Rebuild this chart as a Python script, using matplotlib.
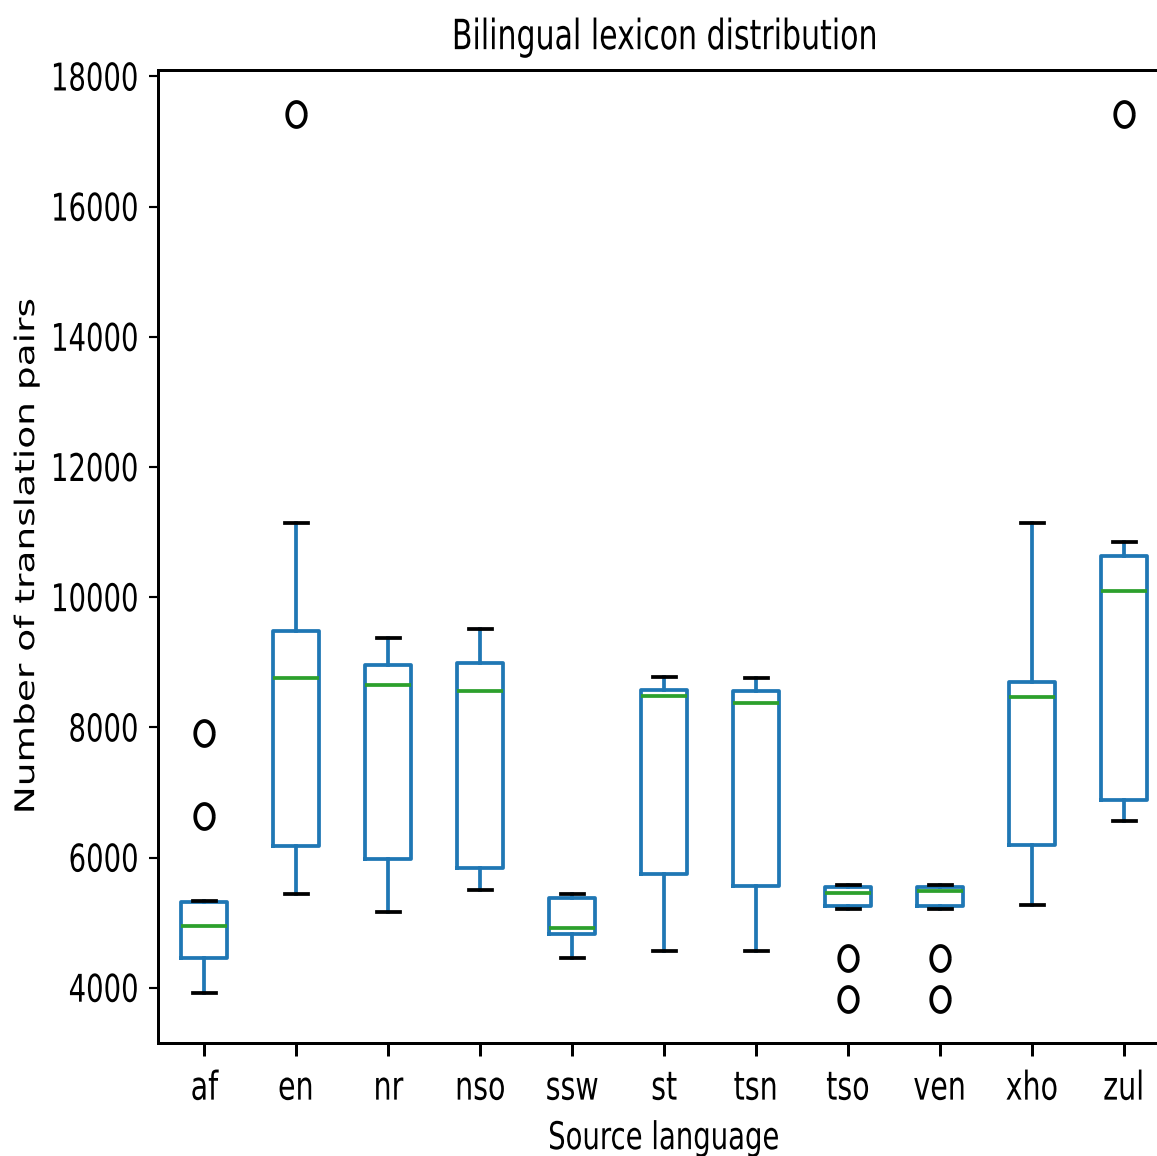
import matplotlib
matplotlib.use("Agg")
import matplotlib.pyplot as plt
import numpy as np
from matplotlib.patheffects import AbstractPathEffect
from matplotlib.transforms import Affine2D

# ---- data ----
languages = ["af", "en", "nr", "nso", "ssw", "st", "tsn", "tso", "ven", "xho", "zul"]
whisker_low = [3920, 5440, 5170, 5500, 4460, 4570, 4570, 5210, 5210, 5270, 6560]
q1 =          [4460, 6180, 5980, 5840, 4830, 5750, 5570, 5260, 5260, 6190, 6890]
medians =     [4950, 8760, 8650, 8560, 4920, 8480, 8375, 5460, 5480, 8470, 10090]
q3 =          [5320, 9480, 8960, 8990, 5380, 8570, 8560, 5550, 5550, 8700, 10630]
whisker_high =[5335, 11140, 9370, 9510, 5440, 8770, 8760, 5580, 5580, 11140, 10850]
fliers = [[7910, 6640], [17420], [], [], [], [], [], [4460, 3830], [4460, 3830], [], [17420]]

title = "Bilingual lexicon distribution"
xlabel = "Source language"
ylabel = "Number of translation pairs"
yticks = [4000, 6000, 8000, 10000, 12000, 14000, 16000, 18000]

# ---- styling ----
S = 2.7          # scale factor (original drawn at ~270 dpi)
SQ = 0.72        # horizontal squeeze of the reference image


class Squeeze(AbstractPathEffect):
    """Draw text glyphs scaled in glyph space (keeps the text as real text)."""

    def __init__(self, sx=1.0, sy=1.0, anchor="center"):
        super().__init__()
        self.sx, self.sy, self.anchor = sx, sy, anchor

    def draw_path(self, renderer, gc, tpath, affine, rgbFace=None):
        ext = tpath.get_extents()
        if self.anchor == "right":
            cx = ext.x1
        elif self.anchor == "left":
            cx = ext.x0
        else:
            cx = 0.5 * (ext.x0 + ext.x1)
        cy = 0.5 * (ext.y0 + ext.y1)
        t = Affine2D().translate(-cx, -cy).scale(self.sx, self.sy).translate(cx, cy) + affine
        renderer.draw_path(gc, tpath, t, rgbFace)


W, H = 1157, 1156
fig = plt.figure(figsize=(W / 100, H / 100), dpi=100)
ax = fig.add_axes([158 / W, 1 - 1043 / H, (1170 - 158) / W, (1043 - 70) / H])

stats = []
for i, lang in enumerate(languages):
    stats.append(dict(label=lang, whislo=whisker_low[i], q1=q1[i], med=medians[i],
                      q3=q3[i], whishi=whisker_high[i], fliers=fliers[i]))

t = np.linspace(0, 2 * np.pi, 72)
ellipse = list(zip(0.74 * np.cos(t), np.sin(t)))

positions = np.arange(1, len(languages) + 1)
ax.bxp(stats, positions=positions, widths=0.5,
       boxprops=dict(color="#1f77b4", linewidth=S),
       whiskerprops=dict(color="#1f77b4", linewidth=S),
       capprops=dict(color="black", linewidth=S),
       medianprops=dict(color="#2ca02c", linewidth=S),
       flierprops=dict(marker=ellipse, markersize=18, markerfacecolor="none",
                       markeredgecolor="black", markeredgewidth=S, linestyle="none"))

ax.set_xlim(0.5, len(languages) + 0.5)
ax.set_xticks(positions)
ax.set_xticklabels(languages, fontsize=28.5)
ax.set_yticks(yticks)
ax.set_yticklabels([str(v) for v in yticks], fontsize=27.5)

for sp in ax.spines.values():
    sp.set_linewidth(0.8 * S)
ax.tick_params(axis="x", length=3.5 * S, width=0.8 * S, pad=9)
ax.tick_params(axis="y", length=3.5 * S * SQ, width=0.8 * S * SQ, pad=3.5 * S * SQ)

ttl = ax.set_title(title, fontsize=30, pad=15)
xl = ax.set_xlabel(xlabel, fontsize=27.5, labelpad=9)
yl = ax.set_ylabel(ylabel, fontsize=27, va="center")
ax.yaxis.set_label_coords((27 - 158) / (1170 - 158), 0.5)

for lbl in ax.get_xticklabels():
    lbl.set_path_effects([Squeeze(sx=SQ, anchor="center")])
for lbl in ax.get_yticklabels():
    lbl.set_path_effects([Squeeze(sx=SQ, anchor="right")])
ttl.set_path_effects([Squeeze(sx=SQ, anchor="center")])
xl.set_path_effects([Squeeze(sx=SQ, anchor="center")])
yl.set_path_effects([Squeeze(sy=SQ, anchor="center")])

fig.savefig("out.png", dpi=100)
